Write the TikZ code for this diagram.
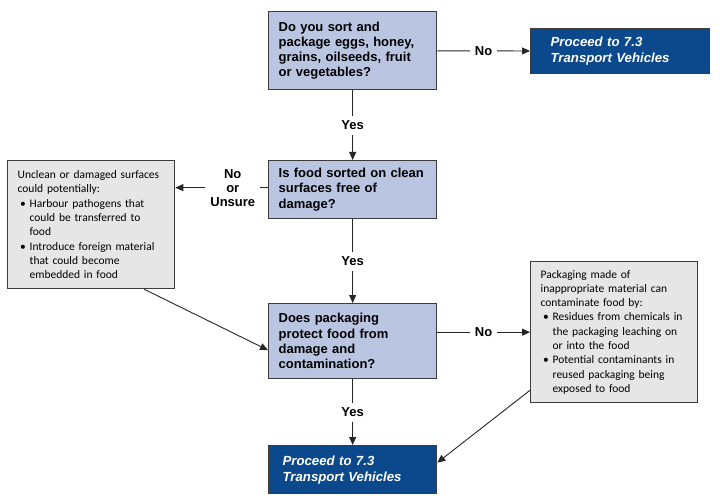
\documentclass[tikz,border=0pt]{standalone}
\usepackage{fontspec}
\setmainfont{Liberation Sans}
\newfontfamily\notefont{Carlito}
\usepackage{tikz}
\usetikzlibrary{arrows.meta}

\definecolor{qfill}{RGB}{186,197,226}
\definecolor{pfill}{RGB}{12,73,140}
\definecolor{nfill}{RGB}{230,230,231}
\definecolor{edge}{RGB}{60,60,60}

\newcommand{\bitem}{\par\hangindent=12pt\hangafter=1\noindent\hspace*{2.5pt}\makebox[9.5pt][l]{\textbullet}}

\begin{document}
\begin{tikzpicture}[x=1pt, y=-1pt,
  qbox/.style={draw=edge, line width=1.3pt, fill=qfill, anchor=north west,
    inner xsep=10pt, text width=148pt, minimum width=168pt, align=left,
    font=\fontsize{13}{15.3}\selectfont\bfseries},
  pbox/.style={draw=edge, line width=1.3pt, fill=pfill, text=white, anchor=north west,
    align=left, font=\fontsize{13.2}{16}\selectfont\bfseries\itshape},
  nbox/.style={draw=edge, line width=1.3pt, fill=nfill, anchor=north west,
    inner xsep=10pt, text width=147pt, align=left,
    font=\notefont\fontsize{11.5}{14.3}\selectfont},
  conn/.style={draw=black!85, line width=0.9pt, -{Triangle[length=8pt,width=7pt]}},
  lbl/.style={fill=white, inner sep=5pt, align=center,
    font=\fontsize{13}{14}\selectfont\bfseries}]
\useasboundingbox (0,0) rectangle (720,500) ;

\node[qbox, minimum height=78pt] (q1) at (268,11) {Do you sort and\\ package eggs, honey,\\ grains, oilseeds, fruit\\ or vegetables?} ;
\node[pbox, inner xsep=20pt, text width=139pt, minimum width=179pt, minimum height=45pt] (p1) at (530,28) {Proceed to 7.3\\ Transport Vehicles} ;
\node[qbox, minimum height=58pt] (q2) at (268,160) {Is food sorted on clean\\ surfaces free of\\ damage?} ;
\node[nbox, minimum width=166pt, minimum height=128pt] (lnote) at (7,160) {Unclean or damaged surfaces\\ could potentially:
\bitem Harbour pathogens that\newline could be transferred to\newline food
\bitem Introduce foreign material\newline that could become\newline embedded in food\par} ;
\node[qbox, minimum height=75pt] (q3) at (268,303) {Does packaging\\ protect food from\\ damage and\\ contamination?} ;
\node[nbox, minimum width=167pt, minimum height=141pt] (rnote) at (530,261) {Packaging made of\\ inappropriate material can\\ contaminate food by:
\bitem Residues from chemicals in\newline the packaging leaching on\newline or into the food
\bitem Potential contaminants in\newline reused packaging being\newline exposed to food\par} ;
\node[pbox, inner xsep=14pt, text width=140pt, minimum width=168pt, minimum height=48pt] (p2) at (268,445) {Proceed to 7.3\\ Transport Vehicles} ;

\draw[conn] (q1) -- node[lbl] {No} (p1) ;
\draw[conn] (q1) -- node[lbl] {Yes} (q2) ;
\draw[conn] ([yshift=2pt]q2.west) -- node[lbl, pos=0.38] {No\\ or\\ Unsure} ([yshift=2pt]q2.west -| lnote.east) ;
\draw[conn] (q2) -- node[lbl] {Yes} (q3) ;
\draw[conn] (q3.east |- rnote.west) -- node[lbl] {No} (rnote.west) ;
\draw[conn] (q3) -- node[lbl] {Yes} (p2) ;
\draw[conn] ([xshift=-31pt]lnote.south east) -- ([yshift=-9pt]q3.west) ;
\draw[conn] ([yshift=13pt]rnote.south west) -- ([yshift=7pt]p2.east) ;
\end{tikzpicture}
\end{document}
